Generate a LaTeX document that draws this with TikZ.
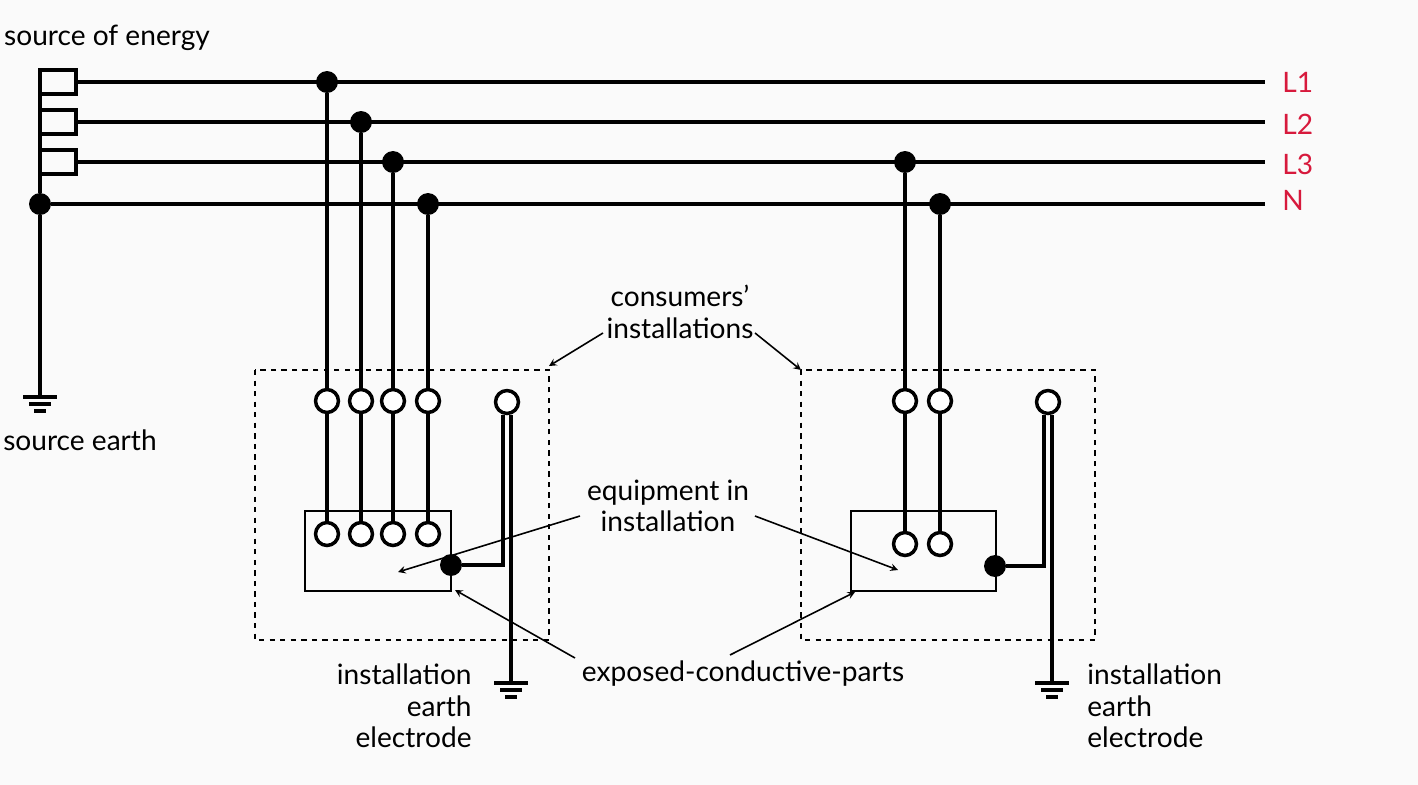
\documentclass[tikz,border=0pt]{standalone}
\usepackage{fontspec}
\setmainfont{Lato}
\usetikzlibrary{positioning}
\definecolor{phasered}{RGB}{215,25,60}
\newlength{\pxl}
\setlength{\pxl}{0.567pt}
\tikzset{
  wire/.style={line width=2.2pt},
  term/.style={shape=circle,draw=black,line width=2pt,fill=white,minimum size=23\pxl,inner sep=0pt},
  junc/.style={shape=circle,fill=black,minimum size=22\pxl,inner sep=0pt},
  lbl/.style={font=\fontsize{16}{18}\selectfont,inner sep=0pt},
  phase/.style={lbl,text=phasered,anchor=west},
  pointer/.style={->,line width=0.9pt,>=stealth},
}
\newcommand{\gndsym}[1]{%
  \draw[line width=2.2pt] ([xshift=-17\pxl]#1) -- ([xshift=17\pxl]#1);
  \draw[line width=2.2pt] ([xshift=-11\pxl,yshift=-7\pxl]#1) -- ([xshift=11\pxl,yshift=-7\pxl]#1);
  \draw[line width=2.2pt] ([xshift=-6\pxl,yshift=-14\pxl]#1) -- ([xshift=6\pxl,yshift=-14\pxl]#1);}
\begin{document}
\begin{tikzpicture}[x=0.02cm,y=-0.02cm]
    \useasboundingbox[fill=black!2] (0,0) rectangle (1418,785);
    % supply boxes and bus
    \foreach \y/\n in {82/1,122/2,162/3}{
        \draw[wire] (40,\y-12) rectangle (76,\y+12);
        \coordinate (s\n) at (76,\y);
    }
    \node[junc] (sN) at (40,204) {};
    \draw[wire] (40,70) -- (sN);
    \coordinate (sE) at (40,397);
    \draw[wire] (sN) -- (sE);
    \gndsym{sE}
    \coordinate (e1) at (1265,82);
    \coordinate (e2) at (1265,122);
    \coordinate (e3) at (1265,162);
    \coordinate (eN) at (1265,204);
    \node[phase] at (1282,82) {L1};
    \node[phase] at (1282,124) {L2};
    \node[phase] at (1282,164) {L3};
    \node[phase] at (1282,200) {N};
    \draw[wire] (s1) -- (e1);
    \draw[wire] (s2) -- (e2);
    \draw[wire] (s3) -- (e3);
    \draw[wire] (sN) -- (eN);
    % left installation
    \draw[dashed,line width=0.8pt] (255,370) rectangle (549,640);
    \draw[line width=0.8pt] (305,511) rectangle (451,591);
    \foreach \x/\y/\n in {327/82/a,361/122/b,393/162/c,428/204/d}{
        \node[junc] (j\n) at (\x,\y) {};
        \node[term] (t\n) at (\x,401) {};
        \node[term] (u\n) at (\x,534) {};
        \draw[wire] (j\n) -- (t\n);
        \draw[wire] (t\n) -- (u\n);
    }
    \node[term] (pe1) at (507,402) {};
    \node[junc] (x1) at (451,565) {};
    \draw[wire] ([xshift=-4\pxl]pe1.south) |- (x1);
    \coordinate (g1) at (511,683);
    \draw[wire] ([xshift=4\pxl]pe1.south) -- (g1);
    \gndsym{g1}
    % right installation
    \draw[dashed,line width=0.8pt] (801,370) rectangle (1095,640);
    \draw[line width=0.8pt] (851,511) rectangle (996,591);
    \foreach \x/\y/\n in {905/162/e,940/204/f}{
        \node[junc] (j\n) at (\x,\y) {};
        \node[term] (t\n) at (\x,401) {};
        \node[term] (u\n) at (\x,544) {};
        \draw[wire] (j\n) -- (t\n);
        \draw[wire] (t\n) -- (u\n);
    }
    \node[term] (pe2) at (1048,402) {};
    \node[junc] (x2) at (995,566) {};
    \draw[wire] ([xshift=-4\pxl]pe2.south) |- (x2);
    \coordinate (g2) at (1052,683);
    \draw[wire] ([xshift=4\pxl]pe2.south) -- (g2);
    \gndsym{g2}
    % labels
    \node[lbl] at (107,38) {source of energy};
    \node[lbl] at (80,440) {source earth};
    \node[lbl,align=center] (cons) at (680,312) {consumers’\\installations};
    \node[lbl,align=center] (equip) at (668,506) {equipment in\\installation};
    \node[lbl] (expo) at (743,674) {exposed-conductive-parts};
    \node[lbl,align=right,anchor=east] at (472,706) {installation\\earth\\electrode};
    \node[lbl,align=left,anchor=west] at (1087,706) {installation\\earth\\electrode};
    \coordinate (c1) at (549,366);
    \coordinate (c2) at (801,370);
    \coordinate (q1) at (398,572);
    \coordinate (q2) at (898,570);
    \coordinate (p1) at (455,590);
    \coordinate (p2) at (855,592);
    \draw[pointer] (603,333) -- (c1);
    \draw[pointer] (755,333) -- (c2);
    \draw[pointer] (580,516) -- (q1);
    \draw[pointer] (755,516) -- (q2);
    \draw[pointer] (575,658) -- (p1);
    \draw[pointer] (730,655) -- (p2);
\end{tikzpicture}
\end{document}
